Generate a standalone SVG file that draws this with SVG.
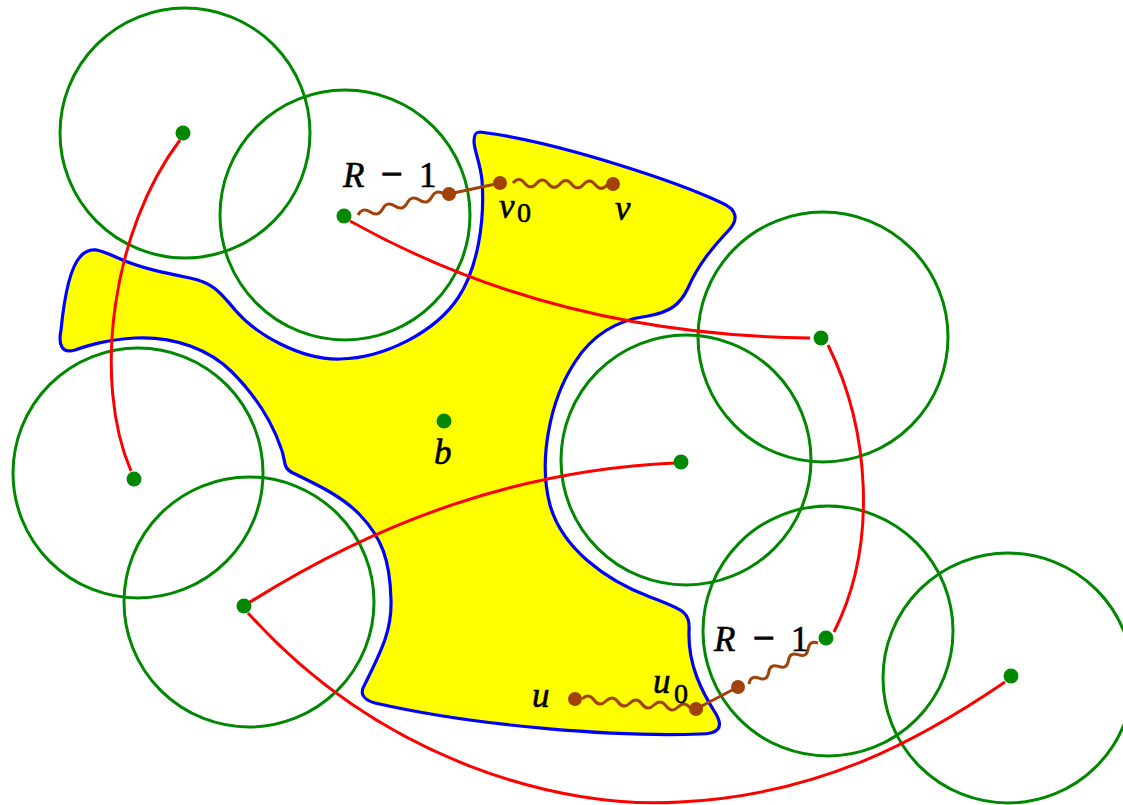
<svg xmlns="http://www.w3.org/2000/svg" width="1123" height="805" viewBox="0 0 1123 805">
<style>
.circ{fill:none;stroke:#008800;stroke-width:3}
.dot{fill:#008800}
.red{fill:none;stroke:#ff0000;stroke-width:3}
.brn{fill:none;stroke:#a0420a;stroke-width:3}
.bdot{fill:#a0420a}
.lbl{font-family:"Liberation Serif","DejaVu Serif",serif;font-size:35px;fill:#000;stroke:#000;stroke-width:0.6}
.it{font-style:italic}
.sub{font-size:28px}
.mn{font-size:38px;stroke-width:1.2}
</style>
<rect width="1123" height="805" fill="#fff"/>
<g id="region">
<path d="M480,132 C560,142 680,183 722,203 C738,210 738,220 729,230 C712,248 698,265 688,288 C680,305 670,312 648,316 C618,320 592,335 575,362 C550,400 538,460 550,505 C562,548 605,580 650,597 C685,610 690,612 689,632 C688,665 702,692 716,714 C724,728 718,734 700,734 C620,737 480,727 375,703 C361,699 360,692 365,684 C383,648 392,628 391,600 C390,560 382,538 360,515 C343,497 318,485 293,473 C282,468 286,460 281,448 C272,422 255,395 232,372 C210,350 175,336 135,338 C105,340 90,345 75,350 C62,354 58,345 61,330 C64,300 70,268 80,257 C90,245 100,250 118,258 C140,268 165,273 190,278 C215,283 222,295 236,311 C256,334 300,360 340,359 C385,358 435,332 458,298 C478,268 485,220 482,180 C480,162 474,150 474,141 C474,134 476,132 480,132 Z" fill="#ffff00" stroke="#0000ff" stroke-width="3.2"/>
</g>
<g id="n1"><circle class="circ" cx="185" cy="133" r="125"/></g>
<g id="n2"><circle class="circ" cx="345" cy="215" r="125"/></g>
<g id="n3"><circle class="circ" cx="138" cy="473" r="125"/></g>
<g id="n4"><circle class="circ" cx="249" cy="602" r="125"/></g>
<g id="n5"><circle class="circ" cx="686" cy="460" r="125"/></g>
<g id="n6"><circle class="circ" cx="823" cy="337" r="125"/></g>
<g id="n7"><circle class="circ" cx="828" cy="631" r="125"/></g>
<g id="n8"><circle class="circ" cx="1008" cy="678" r="125"/></g>
<g id="connectors">
<path class="red" d="M180,140 C112,230 92,380 131,471"/>
<path class="red" d="M350,221 C470,288 620,336 810,338"/>
<path class="red" d="M828,345 C870,430 878,545 834,632"/>
<path class="red" d="M675,463 C520,470 380,520 247,604"/>
<path class="red" d="M248,613 C380,760 560,810 680,802 C820,795 920,740 1005,682"/>
</g>
<g id="paths">
<path class="brn" transform="translate(358,215) rotate(-13.7)" d="M0,0 Q6.32,-7 12.64,0 T25.29,0 T37.93,0 T50.57,0 T63.21,0 T75.86,0 T88.5,0"/>
<line class="brn" x1="449" y1="194" x2="500" y2="183"/>
<path class="brn" transform="translate(513,183) rotate(1.2)" d="M0,0 Q5.875,-7 11.75,0 T23.5,0 T35.25,0 T47,0 T58.75,0 T70.5,0 T82.25,0 T94,0"/>
<path class="brn" transform="translate(582,699) rotate(4.76)" d="M0,0 Q6.02,-7 12.04,0 T24.09,0 T36.13,0 T48.18,0 T60.22,0 T72.27,0 T84.31,0 T96.36,0 T108.4,0"/>
<line class="brn" x1="696" y1="709" x2="738" y2="687"/>
<path class="brn" transform="translate(749,684) rotate(-30.7)" d="M0,0 Q5.74,-7 11.47,0 T22.94,0 T34.41,0 T45.89,0 T57.36,0 T68.83,0 T80.3,0"/>
</g>
<g id="dots">
<circle class="dot" cx="183" cy="133" r="7.5"/>
<circle class="dot" cx="344" cy="216" r="7.5"/>
<circle class="dot" cx="134" cy="479" r="7.5"/>
<circle class="dot" cx="244" cy="606" r="7.5"/>
<circle class="dot" cx="681" cy="462" r="7.5"/>
<circle class="dot" cx="821" cy="338" r="7.5"/>
<circle class="dot" cx="826" cy="638" r="7.5"/>
<circle class="dot" cx="1011" cy="676" r="7.5"/>
<circle class="dot" cx="444" cy="421" r="7.5"/>
<circle class="bdot" cx="449" cy="194" r="7"/>
<circle class="bdot" cx="500" cy="183" r="7"/>
<circle class="bdot" cx="613" cy="184" r="7"/>
<circle class="bdot" cx="575" cy="699" r="7"/>
<circle class="bdot" cx="696" cy="709" r="7"/>
<circle class="bdot" cx="738" cy="687" r="7"/>
</g>
<g id="labels">
<text class="lbl" y="187"><tspan class="it" x="343">R</tspan><tspan class="mn" x="381">−</tspan><tspan x="419">1</tspan></text>
<text class="lbl" y="651"><tspan class="it" x="714">R</tspan><tspan class="mn" x="753">−</tspan><tspan x="791">1</tspan></text>
<text class="lbl it" x="499" y="218">v</text><text class="lbl sub" x="517" y="222">0</text>
<text class="lbl it" x="615" y="220">v</text>
<text class="lbl it" x="532" y="707">u</text>
<text class="lbl it" x="653" y="693">u</text><text class="lbl sub" x="674" y="703">0</text>
<text class="lbl it" x="434" y="464">b</text>
</g>
</svg>
